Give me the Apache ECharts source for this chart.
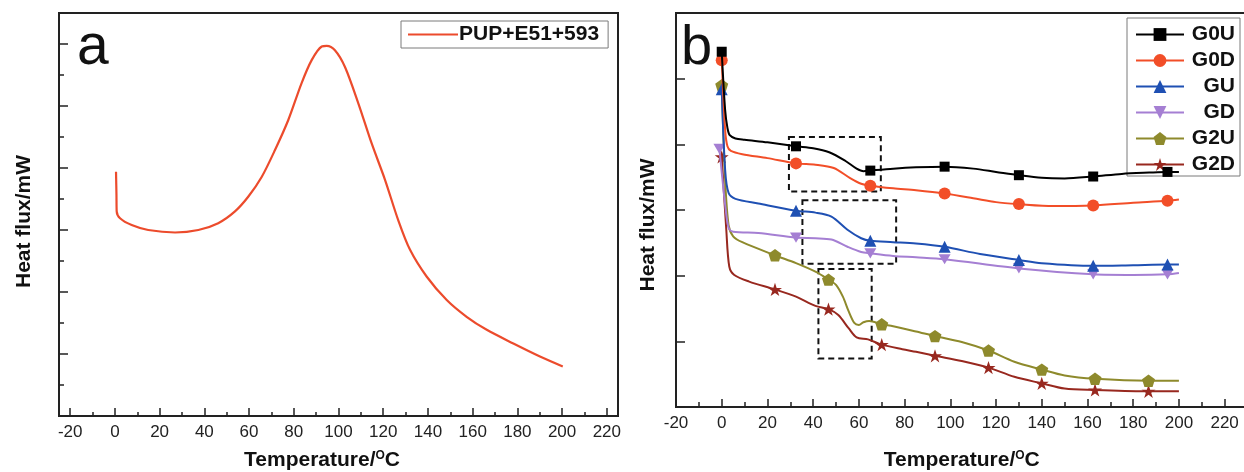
<!DOCTYPE html>
<html>
<head>
<meta charset="utf-8">
<script src="https://cdn.jsdelivr.net/npm/echarts@6/dist/echarts.min.js"></script>
<style>
html,body{margin:0;padding:0;background:#fff;}
#c{width:1244px;height:472px;}
</style>
</head>
<body>
<div id="c"></div>
<script>
// ---------- Panel a ----------
const A_NAME = 'PUP+E51+593';
const A_CURVE = [
  [0.5,3.94],[0.7,3.56],[0.8,3.30],[2.3,3.19],[7.5,3.08],[14.9,3.00],[26.9,2.96],[37.3,3.00],
  [46.2,3.11],[53.7,3.30],[59.7,3.54],[65.7,3.86],[71.6,4.29],[77.5,4.77],[83.5,5.37],[88.0,5.74],
  [92.5,5.96],[94.7,5.97],[98.4,5.90],[102.9,5.63],[108.9,5.04],[114.8,4.40],[120.8,3.81],
  [126.7,3.16],[132.0,2.68],[139.4,2.25],[148.4,1.87],[157.3,1.60],[166.3,1.39],[178.2,1.17],
  [190.1,0.96],[200.3,0.80]
];
const A_X_TICKS = [-20,0,20,40,60,80,100,120,140,160,180,200,220];
const A_X_MINOR = [-10,10,30,50,70,90,110,130,150,170,190,210];

// ---------- Panel b ----------
const B_NAMES = ['G0U','G0D','GU','GD','G2U','G2D'];
const G0U = [[0,5.41],[1.5,4.52],[2.5,4.25],[3.5,4.14],[6,4.09],[10,4.07],[20,4.03],[32.5,3.97],[40,3.94],[47,3.88],[54,3.75],[59,3.63],[62,3.59],[65,3.60],[75,3.63],[85,3.65],[97.5,3.66],[110,3.63],[120,3.58],[130,3.53],[140,3.49],[150,3.48],[162.5,3.51],[175,3.55],[187,3.57],[195,3.58],[200,3.58]];
const G0D = [[0,5.28],[1.5,4.22],[2.5,3.97],[4,3.90],[9,3.85],[20,3.79],[32.5,3.71],[41,3.69],[49,3.64],[56,3.49],[61,3.40],[65,3.37],[75,3.33],[85,3.30],[97.5,3.25],[110,3.18],[120,3.12],[130,3.09],[145,3.06],[162.5,3.07],[180,3.11],[195,3.14],[200,3.16]];
const GU  = [[0,4.84],[1.5,3.61],[3,3.26],[6,3.17],[16,3.10],[32.5,2.99],[41,2.96],[48,2.90],[55,2.70],[61,2.57],[65,2.53],[75,2.51],[85,2.49],[97.5,2.44],[113,2.33],[130,2.24],[140,2.19],[162.5,2.15],[180,2.16],[195,2.17],[200,2.17]];
const GD  = [[-1,3.93],[1.5,3.08],[3,2.73],[5,2.67],[16,2.65],[32.5,2.58],[41,2.57],[48,2.55],[55,2.44],[61,2.36],[65,2.34],[75,2.30],[85,2.28],[97.5,2.25],[130,2.11],[162.5,2.02],[180,2.01],[195,2.02],[200,2.04]];
const G2U = [[0,4.90],[1.5,3.46],[3,2.77],[5,2.60],[9,2.51],[23.3,2.31],[32.5,2.19],[41,2.06],[46.7,1.94],[50,1.86],[53,1.68],[55.5,1.46],[58,1.28],[60,1.25],[62,1.29],[64.5,1.31],[70,1.26],[75,1.23],[85,1.15],[93.3,1.08],[105,0.99],[116.7,0.86],[128,0.69],[140,0.57],[150,0.48],[163.3,0.43],[186.7,0.40],[200,0.40]];
const G2D = [[0,3.81],[2,2.70],[3.3,2.14],[5.5,2.01],[12,1.91],[23.3,1.79],[32.5,1.68],[41,1.54],[46.7,1.49],[51,1.40],[55.5,1.20],[59,1.06],[64,1.03],[70,0.95],[79,0.88],[85,0.84],[93.3,0.78],[105,0.70],[116.7,0.60],[128,0.46],[140,0.36],[150,0.28],[163.3,0.26],[186.7,0.24],[200,0.24]];
const MARKS_A = [0,32.5,65,97.5,130,162.5,195];
const MARKS_D = [-1,32.5,65,97.5,130,162.5,195];
const MARKS_2 = [0,23.3,46.7,70,93.3,116.7,140,163.3,186.7];
// dashed boxes: [x1, y1, x2, y2]
const BOXES = [[29.4,4.11,69.6,3.28],[35.3,3.15,76.3,2.18],[42.3,2.10,65.6,0.74]];

const FONT = "'Liberation Sans', Arial, sans-serif";
const FRAME = '#222';

const B_STYLE = {
  G0U: {color:'#000000', symbol:'rect', size:10},
  G0D: {color:'#f24e28', symbol:'circle', size:12},
  GU:  {color:'#1f50b3', symbol:'triangle', size:12},
  GD:  {color:'#a57fd3', symbol:'path://M0,0 L20,0 L10,17 Z', size:12},
  G2U: {color:'#8e8a2c', symbol:'path://M10,0 L19.5,6.9 L15.9,18.1 L4.1,18.1 L0.5,6.9 Z', size:13},
  G2D: {color:'#98281f', symbol:'path://M10,0 L12.4,7.3 L20,7.3 L13.8,11.8 L16.2,19 L10,14.5 L3.8,19 L6.2,11.8 L0,7.3 L7.6,7.3 Z', size:14}
};
const B_DATA = {G0U:G0U, G0D:G0D, GU:GU, GD:GD, G2U:G2U, G2D:G2D};
const B_MARKS = {G0U:MARKS_A, G0D:MARKS_A, GU:MARKS_A, GD:MARKS_D, G2U:MARKS_2, G2D:MARKS_2};

function withMarks(pts, marks){
  return pts.map(p => marks.indexOf(p[0]) >= 0 ? {value:p} : {value:p, symbol:'none'});
}

const titleRich = {
  sup: {fontSize: 12, fontWeight: 'bold', fontFamily: FONT, color:'#111', verticalAlign:'top', padding:[0,0,9,0]}
};
const titleStyle = {fontSize: 21, fontWeight: 'bold', fontFamily: FONT, color:'#111', rich: titleRich};

const bSeries = B_NAMES.map((n, i) => {
  const s = B_STYLE[n];
  const ser = {
    name: n, type: 'line', xAxisIndex: 2, yAxisIndex: 1,
    data: withMarks(B_DATA[n], B_MARKS[n]),
    smooth: 0.3, symbol: s.symbol, symbolSize: s.size, symbolKeepAspect: true,
    showSymbol: true, showAllSymbol: true,
    lineStyle: {color: s.color, width: 2},
    itemStyle: {color: s.color},
    emphasis: {disabled: true}, animation: false, z: 3 + (6 - i)
  };
  if (i === 0) {
    ser.markArea = {
      silent: true,
      itemStyle: {color: 'rgba(0,0,0,0)', borderColor: '#111', borderWidth: 2, borderType: [6,4]},
      data: BOXES.map(b => [{xAxis: b[0], yAxis: b[1]}, {xAxis: b[2], yAxis: b[3]}])
    };
  }
  return ser;
});

const chart = echarts.init(document.getElementById('c'), null, {renderer: 'canvas'});
chart.setOption({
  animation: false,
  backgroundColor: '#ffffff',
  grid: [
    {left: 59, top: 13, width: 559, height: 403, show: true, borderColor: FRAME, borderWidth: 2, backgroundColor: 'transparent', outerBoundsMode: 'none'},
    {left: 676, top: 13, width: 571.5, height: 394, show: true, borderColor: FRAME, borderWidth: 2, backgroundColor: 'transparent', outerBoundsMode: 'none'}
  ],
  xAxis: [
    {gridIndex: 0, type: 'value', min: -25, max: 225, position: 'bottom',
     splitLine: {show: false},
     axisLine: {show: true, onZero: false, lineStyle: {color: FRAME, width: 2}},
     axisTick: {show: true, inside: true, length: 8, customValues: A_X_TICKS, lineStyle: {color: FRAME, width: 1.5}},
     axisLabel: {customValues: A_X_TICKS, fontSize: 17, fontFamily: FONT, color: '#222', margin: 8},
     name: 'Temperature/{sup|O}C', nameLocation: 'middle', nameGap: 34,
     nameTextStyle: Object.assign({}, titleStyle, {padding: [0, 33, 0, 0]})},
    {gridIndex: 0, type: 'value', min: -25, max: 225, position: 'bottom',
     splitLine: {show: false}, axisLine: {show: false, onZero: false},
     axisTick: {show: true, inside: true, length: 4, customValues: A_X_MINOR, lineStyle: {color: FRAME, width: 1.5}},
     axisLabel: {show: false}},
    {gridIndex: 1, type: 'value', min: -20, max: 230, interval: 20, position: 'bottom',
     splitLine: {show: false},
     axisLine: {show: true, onZero: false, lineStyle: {color: FRAME, width: 2}},
     axisTick: {show: true, inside: true, length: 8, lineStyle: {color: FRAME, width: 1.5}},
     minorTick: {show: true, splitNumber: 2, length: 5, lineStyle: {color: FRAME, width: 1.5}},
     axisLabel: {fontSize: 17, fontFamily: FONT, color: '#222', margin: 8,
       formatter: v => (v > 220 ? '' : String(v))},
     name: 'Temperature/{sup|O}C', nameLocation: 'middle', nameGap: 43,
     nameTextStyle: titleStyle}
  ],
  yAxis: [
    {gridIndex: 0, type: 'value', min: 0, max: 6.5, interval: 1, position: 'left',
     splitLine: {show: false},
     axisLine: {show: true, onZero: false, lineStyle: {color: FRAME, width: 2}},
     axisTick: {show: true, inside: true, length: 9, lineStyle: {color: FRAME, width: 1.5}},
     minorTick: {show: true, splitNumber: 2, length: 5, lineStyle: {color: FRAME, width: 1.5}},
     axisLabel: {show: false},
     name: 'Heat flux/mW', nameLocation: 'middle', nameGap: 24,
     nameTextStyle: Object.assign({}, titleStyle, {padding: [0, 14, 0, 0]})},
    {gridIndex: 1, type: 'value', min: 0, max: 6, interval: 1, position: 'left',
     splitLine: {show: false},
     axisLine: {show: true, onZero: false, lineStyle: {color: FRAME, width: 2}},
     axisTick: {show: true, inside: true, length: 9, lineStyle: {color: FRAME, width: 1.5}},
     axisLabel: {show: false},
     name: 'Heat flux/mW', nameLocation: 'middle', nameGap: 17,
     nameTextStyle: Object.assign({}, titleStyle, {padding: [0, 30, 0, 0]})}
  ],
  legend: [
    {data: [{name: A_NAME, icon: 'path://M0,0 L50,0 L50,2.2 L0,2.2 Z'}], left: 401, top: 21, orient: 'vertical',
     backgroundColor: '#fff', borderColor: '#7a7a7a', borderWidth: 1,
     padding: [3, 9, 3, 7], itemWidth: 50, itemHeight: 14, itemGap: 0,
     selectedMode: false,
     textStyle: {fontSize: 21, fontWeight: 'bold', fontFamily: FONT, color: '#111', padding: [0,0,0,-4]}},
    {data: B_NAMES, left: 1127, top: 18, orient: 'vertical',
     backgroundColor: '#fff', borderColor: '#7a7a7a', borderWidth: 1,
     padding: [6, 5, 1, 8], itemWidth: 48, itemHeight: 16, itemGap: 5,
     selectedMode: false,
     formatter: n => '{r|' + n + '}',
     textStyle: {fontSize: 21, fontWeight: 'bold', fontFamily: FONT, color: '#111',
       rich: {r: {width: 46, align: 'right', fontSize: 21, fontWeight: 'bold', fontFamily: FONT, color: '#111'}}}}
  ],
  graphic: [
    {type: 'text', left: 77, top: 20, style: {text: 'a', fontSize: 57, fontFamily: FONT, fill: '#111'}, silent: true},
    {type: 'text', left: 681, top: 21, style: {text: 'b', fontSize: 56, fontFamily: FONT, fill: '#111'}, silent: true}
  ],
  series: [
    {name: A_NAME, type: 'line', xAxisIndex: 0, yAxisIndex: 0, data: A_CURVE,
     smooth: 0.3, symbol: 'none', lineStyle: {color: '#ec4b2c', width: 2.2}, itemStyle: {color: '#ec4b2c'},
     emphasis: {disabled: true}, animation: false}
  ].concat(bSeries)
});
</script>
</body>
</html>
